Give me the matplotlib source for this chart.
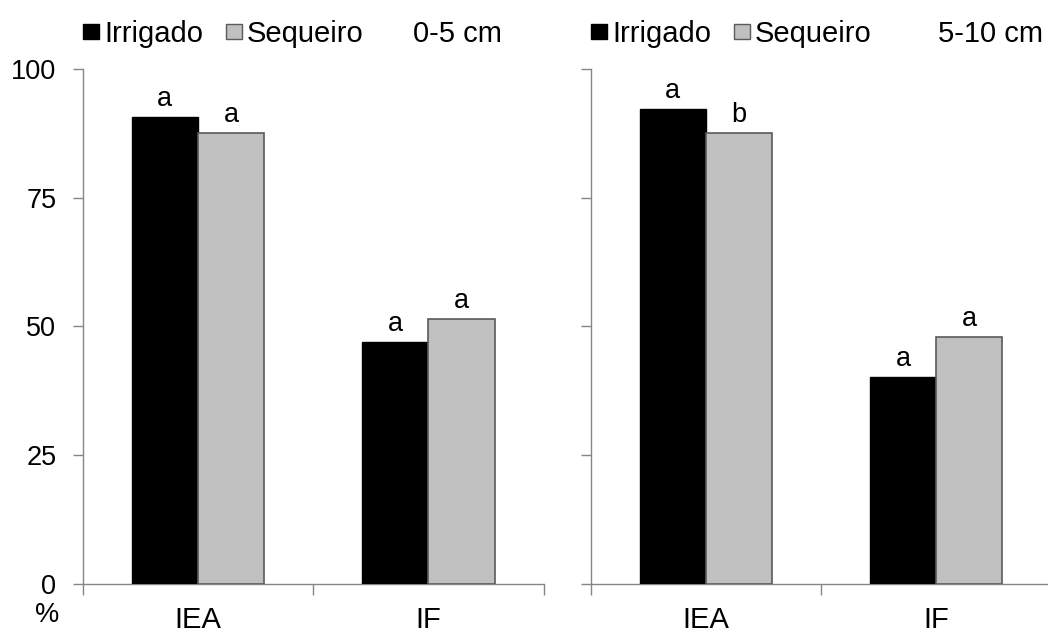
import matplotlib
matplotlib.use("Agg")
import matplotlib.pyplot as plt
from matplotlib.patches import Patch
import numpy as np

plt.rcParams['font.family'] = ['Liberation Sans', 'DejaVu Sans']

categories = ["IEA", "IF"]
series_names = ["Irrigado", "Sequeiro"]
depth_titles = ["0-5 cm", "5-10 cm"]
irrigado_0_5 = [90.6, 47.0]
sequeiro_0_5 = [87.5, 51.4]
irrigado_5_10 = [92.2, 40.1]
sequeiro_5_10 = [87.6, 48.0]
letters_irrigado_0_5 = ["a", "a"]
letters_sequeiro_0_5 = ["a", "a"]
letters_irrigado_5_10 = ["a", "a"]
letters_sequeiro_5_10 = ["b", "a"]
yticks = [0, 25, 50, 75, 100]
y_unit = "%"

W, H = 1048, 633
fig = plt.figure(figsize=(W / 100, H / 100), dpi=100)

spine_col = "#868686"
black = "#000000"
gray = "#C0C0C0"
gray_edge = "#5A5A5A"
bw = 0.287
fs_tick = 19.5
fs_big = 21

panels = [
    (82.7, irrigado_0_5, sequeiro_0_5, letters_irrigado_0_5, letters_sequeiro_0_5, True),
    (590.5, irrigado_5_10, sequeiro_5_10, letters_irrigado_5_10, letters_sequeiro_5_10, False),
]
legend_x = [83, 591]
title_x = [413, 938]

for i, (x0, irr, seq, li, ls, show_y) in enumerate(panels):
    ax = fig.add_axes([x0 / W, (H - 584) / H, 461 / W, (584 - 69) / H])
    x = np.arange(len(categories))
    b1 = ax.bar(x - bw / 2, irr, bw, color=black, edgecolor=black, linewidth=1.0, zorder=3)
    b2 = ax.bar(x + bw / 2, seq, bw, color=gray, edgecolor=gray_edge, linewidth=1.2, zorder=3)
    for rect, lab in zip(b1, li):
        ax.annotate(lab, (rect.get_x() + rect.get_width() / 2, rect.get_height()),
                    xytext=(0, 8), textcoords="offset points", ha="center", va="baseline",
                    fontsize=fs_tick)
    for rect, lab in zip(b2, ls):
        ax.annotate(lab, (rect.get_x() + rect.get_width() / 2, rect.get_height()),
                    xytext=(0, 8), textcoords="offset points", ha="center", va="baseline",
                    fontsize=fs_tick)
    ax.set_xlim(-0.5, len(categories) - 0.5)
    ax.set_ylim(0, 100)
    for s in ["top", "right"]:
        ax.spines[s].set_visible(False)
    for s in ["left", "bottom"]:
        ax.spines[s].set_color(spine_col)
        ax.spines[s].set_linewidth(1.0)
    ax.set_yticks(yticks)
    ax.tick_params(axis="y", direction="out", length=7, width=1.0, color=spine_col,
                   labelsize=fs_tick, pad=12, labelleft=show_y)
    ax.set_xticks(np.arange(len(categories) + 1) - 0.5)
    ax.set_xticklabels([])
    ax.set_xticks(x, minor=True)
    ax.set_xticklabels(categories, minor=True)
    ax.tick_params(axis="x", which="major", direction="out", length=8, width=1.0, color=spine_col)
    ax.tick_params(axis="x", which="minor", length=0, labelsize=fs_big, pad=16)
    ax.set_facecolor("none")

    handles = [Patch(facecolor=black, edgecolor=black),
               Patch(facecolor=gray, edgecolor=gray_edge)]
    fig.legend(handles, series_names, loc="center left",
               bbox_to_anchor=(legend_x[i] / W, 1 - 34 / H), ncol=2, frameon=False,
               fontsize=fs_big, handlelength=0.55, handleheight=0.45, handletextpad=0.17,
               columnspacing=0.79, borderpad=0, borderaxespad=0)
    fig.text(title_x[i] / W, 1 - 34 / H, depth_titles[i], fontsize=fs_big, va="center", ha="left")

fig.text(47 / W, 1 - 615 / H, y_unit, fontsize=fs_tick, ha="center", va="center")

fig.savefig("out.png", dpi=100)
